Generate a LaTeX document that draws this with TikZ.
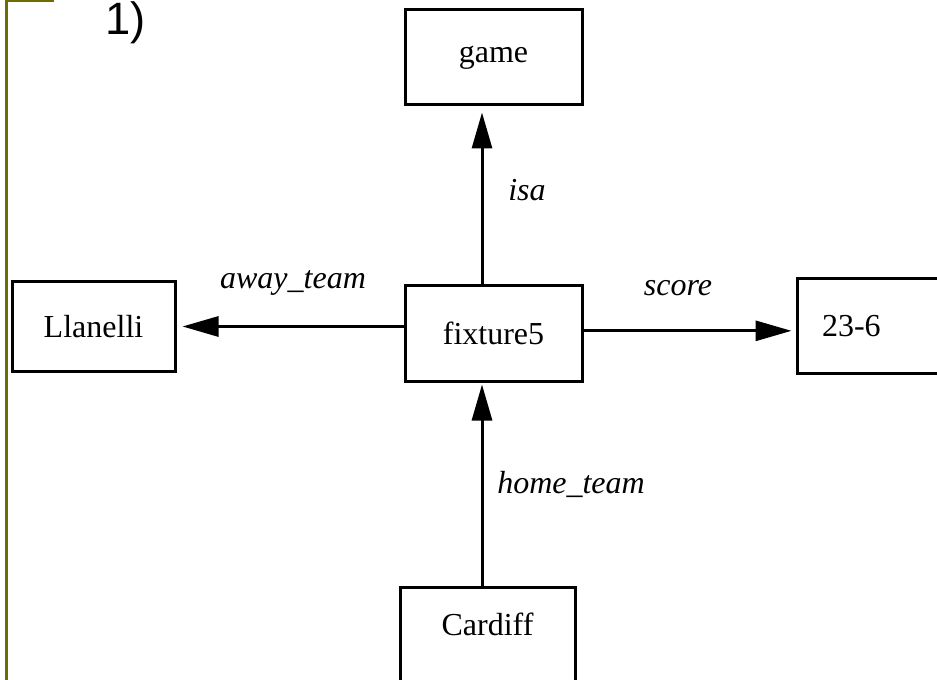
\documentclass[tikz,border=0pt]{standalone}
\usepackage{fontspec}
\setmainfont{Liberation Serif}
\newfontfamily\numfont{Liberation Sans}
\usetikzlibrary{arrows.meta}

\definecolor{barolive}{RGB}{110,110,0}
\tikzset{every picture/.style={line width=0.75pt}}

\begin{document}
\begin{tikzpicture}[x=0.75pt,y=0.75pt,yscale=-1,xscale=1,
	frame/.style={draw, line width=2.25pt, minimum width=132.75pt, minimum height=71.25pt, inner sep=0pt, font=\fontsize{24}{28}\selectfont},
	link/.style={line width=2.25pt, -{Triangle[length=27pt,width=15pt]}, shorten >=4.5pt},
	rel/.style={font=\fontsize{24}{28}\selectfont\itshape, inner sep=0pt}]
	\useasboundingbox (0,0) rectangle (937,680);
	\clip (0,0) rectangle (937,680);

	%Slide Bar
	\draw [barolive, line width=1.8pt] (54,1) -- (6.5,1) -- (6.5,680) ;

	% Text Node
	\node [font=\numfont\fontsize{34}{38}\selectfont, inner sep=0pt, anchor=base west] (num) at (105,35) {1)};

	%Boxes
	\node [frame] (game) at (493.5,57.5) {game};
	\node [frame] (fix) at (493.5,333.5) {fixture5};
	\node [frame, minimum width=122.25pt, minimum height=66.75pt] (llan) at (93.5,326.5) {Llanelli};
	\node [frame, text width=95.25pt, align=left, inner xsep=18.75pt] (final) at (885.5,326) {23-6};
	\node [frame, minimum width=131.25pt, minimum height=0pt, anchor=north, text height=36pt, text depth=45pt] (cardiff) at (487.5,586) {Cardiff};

	%Straight Lines
	\draw [link] ([xshift=-8.625pt]fix.north) -- ([xshift=-8.625pt]game.south) ;
	%Straight Lines
	\draw [link] (fix.west |- llan.east) -- (llan.east) ;
	%Straight Lines
	\draw [link, shorten >=3pt] ([yshift=-2pt]fix.east) -- ([yshift=-2pt]final.west |- fix.east) ;
	%Straight Lines
	\draw [link, shorten >=1.5pt] ([xshift=-4.125pt]cardiff.north) -- ([xshift=-8.625pt]fix.south) ;

	% Text Node
	\node [rel] (isa) at (527,190) {isa};
	% Text Node
	\node [rel] (away) at (293,283) {away\_team};
	% Text Node
	\node [rel] (score) at (678,288) {score};
	% Text Node
	\node [rel] (home) at (571,484) {home\_team};

\end{tikzpicture}
\end{document}
